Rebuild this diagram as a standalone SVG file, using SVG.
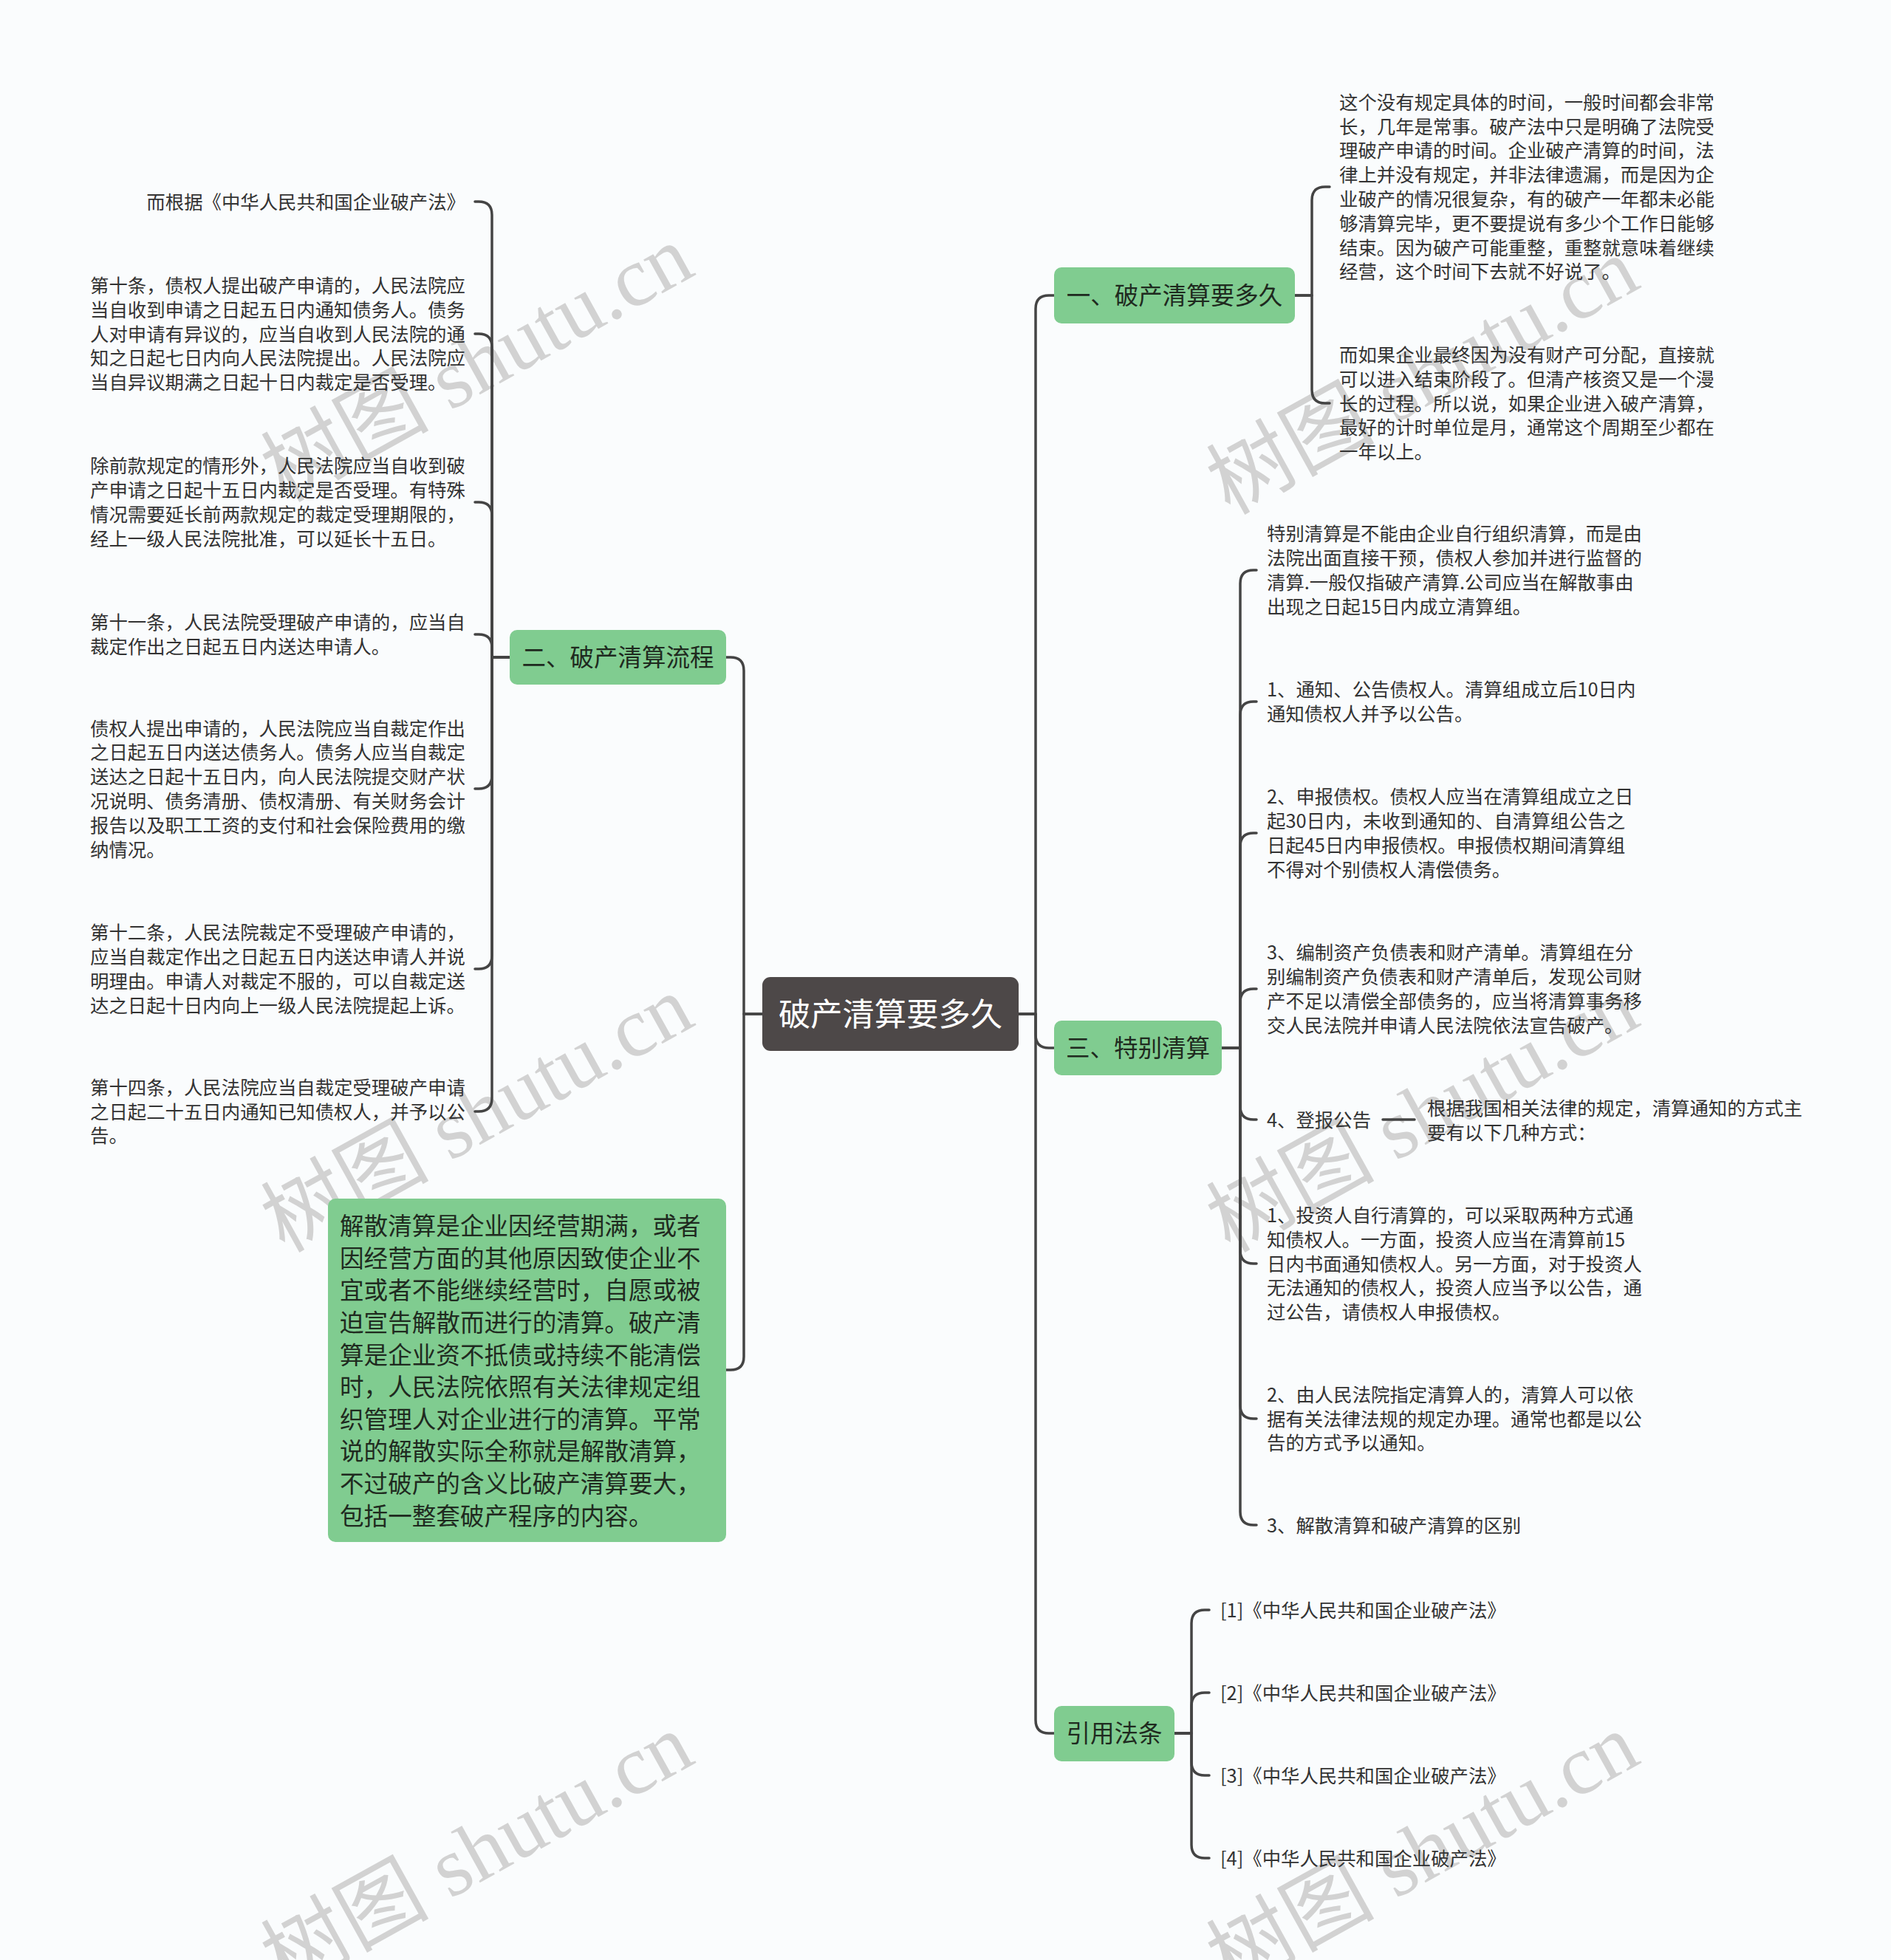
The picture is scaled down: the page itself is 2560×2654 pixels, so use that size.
<svg xmlns="http://www.w3.org/2000/svg" width="2560" height="2654" viewBox="0 0 2560 2654">
<style>
.c{fill:none;stroke:#444;stroke-width:3.5;stroke-linecap:round;stroke-linejoin:round}
.t{font-family:"Noto Sans CJK SC","Noto Sans",sans-serif;font-size:25.4px;fill:#333}
.g{fill:#80cc90}
.bt{font-family:"Noto Sans CJK SC","Noto Sans",sans-serif;font-size:32.5px;fill:#1f2a1f;text-anchor:middle}
.gt{font-family:"Noto Sans CJK SC","Noto Sans",sans-serif;font-size:32.6px;fill:#1f2a1f}
.wm{font-family:"Liberation Serif","Noto Sans CJK SC",serif;font-size:114px;fill:#d2d2d2;text-anchor:middle}
</style>
<rect x="0" y="0" width="2560" height="2654" fill="#fafcfd"/>
<g id="watermarks">
<text class="wm" x="645" y="531" transform="rotate(-29 645 491)">树图 shutu.cn</text>
<text class="wm" x="1925" y="548" transform="rotate(-29 1925 508)">树图 shutu.cn</text>
<text class="wm" x="645" y="1547" transform="rotate(-29 645 1507)">树图 shutu.cn</text>
<text class="wm" x="1925" y="1547" transform="rotate(-29 1925 1507)">树图 shutu.cn</text>
<text class="wm" x="645" y="2546" transform="rotate(-29 645 2506)">树图 shutu.cn</text>
<text class="wm" x="1925" y="2546" transform="rotate(-29 1925 2506)">树图 shutu.cn</text>
</g>
<g id="connectors">
<path class="c" d="M1379 1373H1402V418Q1402 400 1420 400H1427"/>
<path class="c" d="M1379 1373H1402V1401Q1402 1419 1420 1419H1427"/>
<path class="c" d="M1379 1373H1402V2329Q1402 2347 1420 2347H1427"/>
<path class="c" d="M1032 1373H1007V908Q1007 890 989 890H983"/>
<path class="c" d="M1032 1373H1007V1837Q1007 1855 989 1855H983"/>
<path class="c" d="M1753 400H1776V271Q1776 253 1794 253H1800"/>
<path class="c" d="M1753 400H1776V528Q1776 546 1794 546H1800"/>
<path class="c" d="M1654 1419H1679V790Q1679 772 1697 772H1701"/>
<path class="c" d="M1654 1419H1679V968Q1679 950 1697 950H1701"/>
<path class="c" d="M1654 1419H1679V1146Q1679 1128 1697 1128H1701"/>
<path class="c" d="M1654 1419H1679V1357Q1679 1339 1697 1339H1701"/>
<path class="c" d="M1654 1419H1679V1498Q1679 1516 1697 1516H1701"/>
<path class="c" d="M1654 1419H1679V1693Q1679 1711 1697 1711H1701"/>
<path class="c" d="M1654 1419H1679V1903Q1679 1921 1697 1921H1701"/>
<path class="c" d="M1654 1419H1679V2047Q1679 2065 1697 2065H1701"/>
<path class="c" d="M1872 1516H1915"/>
<path class="c" d="M1590 2347H1613V2198Q1613 2180 1631 2180H1637"/>
<path class="c" d="M1590 2347H1613V2310Q1613 2292 1631 2292H1637"/>
<path class="c" d="M1590 2347H1613V2386Q1613 2404 1631 2404H1637"/>
<path class="c" d="M1590 2347H1613V2498Q1613 2516 1631 2516H1637"/>
<path class="c" d="M690 890H666V291Q666 273 648 273H643"/>
<path class="c" d="M690 890H666V470Q666 452 648 452H643"/>
<path class="c" d="M690 890H666V698Q666 680 648 680H643"/>
<path class="c" d="M690 890H666V877Q666 859 648 859H643"/>
<path class="c" d="M690 890H666V1050Q666 1068 648 1068H643"/>
<path class="c" d="M690 890H666V1294Q666 1312 648 1312H643"/>
<path class="c" d="M690 890H666V1487Q666 1505 648 1505H643"/>
</g>
<g id="root">
<rect x="1032" y="1323" width="347" height="100" rx="11" fill="#4d4848"/>
<text x="1205.5" y="1389" font-family="Noto Sans CJK SC, sans-serif" font-size="43.3" fill="#ffffff" text-anchor="middle">破产清算要多久</text>
</g>
<g id="n1">
<rect class="g" x="1427" y="362" width="326" height="76" rx="10"/>
<text class="bt" x="1590" y="412.3">一、破产清算要多久</text>
</g>
<g id="n1a">
<text class="t" x="1813" y="147.8"><tspan x="1813">这个没有规定具体的时间，一般时间都会非常</tspan><tspan x="1813" dy="32.8">长，几年是常事。破产法中只是明确了法院受</tspan><tspan x="1813" dy="32.8">理破产申请的时间。企业破产清算的时间，法</tspan><tspan x="1813" dy="32.8">律上并没有规定，并非法律遗漏，而是因为企</tspan><tspan x="1813" dy="32.8">业破产的情况很复杂，有的破产一年都未必能</tspan><tspan x="1813" dy="32.8">够清算完毕，更不要提说有多少个工作日能够</tspan><tspan x="1813" dy="32.8">结束。因为破产可能重整，重整就意味着继续</tspan><tspan x="1813" dy="32.8">经营，这个时间下去就不好说了。</tspan></text>
</g>
<g id="n1b">
<text class="t" x="1813" y="490"><tspan x="1813">而如果企业最终因为没有财产可分配，直接就</tspan><tspan x="1813" dy="32.8">可以进入结束阶段了。但清产核资又是一个漫</tspan><tspan x="1813" dy="32.8">长的过程。所以说，如果企业进入破产清算，</tspan><tspan x="1813" dy="32.8">最好的计时单位是月，通常这个周期至少都在</tspan><tspan x="1813" dy="32.8">一年以上。</tspan></text>
</g>
<g id="n2">
<rect class="g" x="690" y="853" width="293" height="74" rx="10"/>
<text class="bt" x="836.5" y="902.3">二、破产清算流程</text>
</g>
<g id="n2a">
<text class="t" x="630" y="282.6" text-anchor="end">而根据《中华人民共和国企业破产法》</text>
</g>
<g id="n2b">
<text class="t" x="122" y="396"><tspan x="122">第十条，债权人提出破产申请的，人民法院应</tspan><tspan x="122" dy="32.8">当自收到申请之日起五日内通知债务人。债务</tspan><tspan x="122" dy="32.8">人对申请有异议的，应当自收到人民法院的通</tspan><tspan x="122" dy="32.8">知之日起七日内向人民法院提出。人民法院应</tspan><tspan x="122" dy="32.8">当自异议期满之日起十日内裁定是否受理。</tspan></text>
</g>
<g id="n2c">
<text class="t" x="122" y="640.4"><tspan x="122">除前款规定的情形外，人民法院应当自收到破</tspan><tspan x="122" dy="32.8">产申请之日起十五日内裁定是否受理。有特殊</tspan><tspan x="122" dy="32.8">情况需要延长前两款规定的裁定受理期限的，</tspan><tspan x="122" dy="32.8">经上一级人民法院批准，可以延长十五日。</tspan></text>
</g>
<g id="n2d">
<text class="t" x="122" y="852.2"><tspan x="122">第十一条，人民法院受理破产申请的，应当自</tspan><tspan x="122" dy="32.8">裁定作出之日起五日内送达申请人。</tspan></text>
</g>
<g id="n2e">
<text class="t" x="122" y="995.6"><tspan x="122">债权人提出申请的，人民法院应当自裁定作出</tspan><tspan x="122" dy="32.8">之日起五日内送达债务人。债务人应当自裁定</tspan><tspan x="122" dy="32.8">送达之日起十五日内，向人民法院提交财产状</tspan><tspan x="122" dy="32.8">况说明、债务清册、债权清册、有关财务会计</tspan><tspan x="122" dy="32.8">报告以及职工工资的支付和社会保险费用的缴</tspan><tspan x="122" dy="32.8">纳情况。</tspan></text>
</g>
<g id="n2f">
<text class="t" x="122" y="1272.4"><tspan x="122">第十二条，人民法院裁定不受理破产申请的，</tspan><tspan x="122" dy="32.8">应当自裁定作出之日起五日内送达申请人并说</tspan><tspan x="122" dy="32.8">明理由。申请人对裁定不服的，可以自裁定送</tspan><tspan x="122" dy="32.8">达之日起十日内向上一级人民法院提起上诉。</tspan></text>
</g>
<g id="n2g">
<text class="t" x="122" y="1481.8"><tspan x="122">第十四条，人民法院应当自裁定受理破产申请</tspan><tspan x="122" dy="32.8">之日起二十五日内通知已知债权人，并予以公</tspan><tspan x="122" dy="32.8">告。</tspan></text>
</g>
<g id="n4">
<rect class="g" x="444" y="1623" width="539" height="465" rx="10"/>
<text class="gt" x="460" y="1672.2"><tspan x="460">解散清算是企业因经营期满，或者</tspan><tspan x="460" dy="43.6">因经营方面的其他原因致使企业不</tspan><tspan x="460" dy="43.6">宜或者不能继续经营时，自愿或被</tspan><tspan x="460" dy="43.6">迫宣告解散而进行的清算。破产清</tspan><tspan x="460" dy="43.6">算是企业资不抵债或持续不能清偿</tspan><tspan x="460" dy="43.6">时，人民法院依照有关法律规定组</tspan><tspan x="460" dy="43.6">织管理人对企业进行的清算。平常</tspan><tspan x="460" dy="43.6">说的解散实际全称就是解散清算，</tspan><tspan x="460" dy="43.6">不过破产的含义比破产清算要大，</tspan><tspan x="460" dy="43.6">包括一整套破产程序的内容。</tspan></text>
</g>
<g id="n3">
<rect class="g" x="1427" y="1382" width="227" height="74" rx="10"/>
<text class="bt" x="1540.5" y="1431.3">三、特别清算</text>
</g>
<g id="n3a">
<text class="t" x="1715" y="732.4"><tspan x="1715">特别清算是不能由企业自行组织清算，而是由</tspan><tspan x="1715" dy="32.8">法院出面直接干预，债权人参加并进行监督的</tspan><tspan x="1715" dy="32.8">清算.一般仅指破产清算.公司应当在解散事由</tspan><tspan x="1715" dy="32.8">出现之日起15日内成立清算组。</tspan></text>
</g>
<g id="n3b">
<text class="t" x="1715" y="943.2"><tspan x="1715">1、通知、公告债权人。清算组成立后10日内</tspan><tspan x="1715" dy="32.8">通知债权人并予以公告。</tspan></text>
</g>
<g id="n3c">
<text class="t" x="1715" y="1088.4"><tspan x="1715">2、申报债权。债权人应当在清算组成立之日</tspan><tspan x="1715" dy="32.8">起30日内，未收到通知的、自清算组公告之</tspan><tspan x="1715" dy="32.8">日起45日内申报债权。申报债权期间清算组</tspan><tspan x="1715" dy="32.8">不得对个别债权人清偿债务。</tspan></text>
</g>
<g id="n3d">
<text class="t" x="1715" y="1299.4"><tspan x="1715">3、编制资产负债表和财产清单。清算组在分</tspan><tspan x="1715" dy="32.8">别编制资产负债表和财产清单后，发现公司财</tspan><tspan x="1715" dy="32.8">产不足以清偿全部债务的，应当将清算事务移</tspan><tspan x="1715" dy="32.8">交人民法院并申请人民法院依法宣告破产。</tspan></text>
</g>
<g id="n3e">
<text class="t" x="1715" y="1525.6">4、登报公告</text>
</g>
<g id="n3e1">
<text class="t" x="1932" y="1510.2"><tspan x="1932">根据我国相关法律的规定，清算通知的方式主</tspan><tspan x="1932" dy="32.8">要有以下几种方式：</tspan></text>
</g>
<g id="n3f">
<text class="t" x="1715" y="1655"><tspan x="1715">1、投资人自行清算的，可以采取两种方式通</tspan><tspan x="1715" dy="32.8">知债权人。一方面，投资人应当在清算前15</tspan><tspan x="1715" dy="32.8">日内书面通知债权人。另一方面，对于投资人</tspan><tspan x="1715" dy="32.8">无法通知的债权人，投资人应当予以公告，通</tspan><tspan x="1715" dy="32.8">过公告，请债权人申报债权。</tspan></text>
</g>
<g id="n3g">
<text class="t" x="1715" y="1897.8"><tspan x="1715">2、由人民法院指定清算人的，清算人可以依</tspan><tspan x="1715" dy="32.8">据有关法律法规的规定办理。通常也都是以公</tspan><tspan x="1715" dy="32.8">告的方式予以通知。</tspan></text>
</g>
<g id="n3h">
<text class="t" x="1715" y="2074.6">3、解散清算和破产清算的区别</text>
</g>
<g id="n5">
<rect class="g" x="1427" y="2310" width="163" height="75" rx="10"/>
<text class="bt" x="1508.5" y="2359.3">引用法条</text>
</g>
<g id="n5a"><text class="t" x="1652" y="2189.6">[1]《中华人民共和国企业破产法》</text></g>
<g id="n5b"><text class="t" x="1652" y="2301.6">[2]《中华人民共和国企业破产法》</text></g>
<g id="n5c"><text class="t" x="1652" y="2413.6">[3]《中华人民共和国企业破产法》</text></g>
<g id="n5d"><text class="t" x="1652" y="2525.6">[4]《中华人民共和国企业破产法》</text></g>
</svg>
